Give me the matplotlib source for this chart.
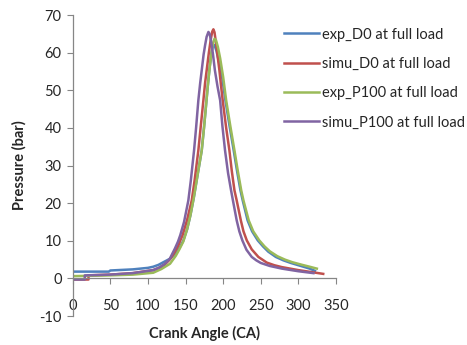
import matplotlib
matplotlib.use("Agg")
import matplotlib.pyplot as plt

plt.rcParams['font.family'] = ['Lato', 'DejaVu Sans']
plt.rcParams['axes.unicode_minus'] = False

# ── Data: crank angle (CA) vs cylinder pressure (bar) ─────────────────────────
exp_d0_ca = [0, 48, 50, 80, 100, 107, 114, 120.5, 130, 138, 143, 147, 152, 156.5,
             161, 166, 171.5, 174.5, 177, 179.5, 182, 184.5, 186.5, 188.5, 191,
             195, 199, 203, 208.5, 214, 218.5, 223, 226, 232.5, 238.5, 246, 253,
             260, 270, 280, 290, 305, 315, 322]
exp_d0_p = [1.8, 1.8, 2.1, 2.4, 2.8, 3.1, 3.6, 4.3, 5.3, 7.0, 8.5, 10, 13, 16.8,
            21.5, 27.5, 34, 40, 45.5, 51, 56, 60, 62, 62, 60.5,
            57, 53, 47.3, 40.5, 34, 28.5, 23.4, 20.7, 15.4, 12.5, 10.1, 8.5,
            7.1, 5.7, 4.8, 4.1, 3.2, 2.6, 2.0]

simu_d0_ca = [0, 21, 21, 50, 80, 107, 115, 122, 129, 135, 140.5, 146, 152, 158.2,
              162, 167, 170, 173.7, 176, 178.5, 181, 183.5, 185.5, 187, 188.5, 190.5,
              193, 195, 197, 199.4, 204, 208.3, 211.5, 215, 218, 223.5, 227, 231.4,
              238, 246.8, 258, 268, 278, 300, 320, 333]
simu_d0_p = [-0.3, -0.3, 0.8, 1.0, 1.4, 2.2, 2.8, 3.6, 5.0, 6.8, 8.8, 11.5, 15.5, 20.7,
             26, 34, 40, 47.3, 52, 56, 60, 63.5, 65.6, 66.2, 65.4, 62.5,
             58.5, 55.3, 51.5, 47.3, 40, 34, 28.5, 23.4, 20.7, 15.4, 12.5, 10.1,
             7.7, 5.7, 4.2, 3.5, 3.0, 2.2, 1.6, 1.2]

exp_p100_ca = [0, 50, 80, 107, 118, 129.4, 137, 142, 147, 152, 156.5, 161, 166,
               171.5, 174.5, 177, 179.5, 182, 184.5, 186.5, 188.5, 190.5, 193, 196,
               200, 204, 209.5, 215, 219.5, 224, 227, 234, 240, 248, 255, 262, 272,
               282, 292, 305, 315, 324.5]
exp_p100_p = [0.6, 0.8, 1.0, 1.5, 2.5, 3.9, 6.0, 7.8, 9.8, 13, 16.8, 21.5, 27.5,
              34, 40, 45.5, 51, 56, 60, 62.5, 63.7, 63.3, 61.5, 58.5,
              53.5, 47.3, 40.5, 34, 28.5, 23.4, 20.7, 15.4, 12.5, 10.1, 8.5, 7.2, 5.9,
              5.0, 4.3, 3.6, 3.1, 2.6]

simu_p100_ca = [0, 16, 16, 50, 80, 107, 115, 122, 129, 136, 140, 143, 148, 153.7,
                157, 161.3, 164, 167, 169.5, 171.5, 174, 176, 178, 180.4, 182, 184,
                186.5, 189, 192.5, 196, 199, 202.5, 206.5, 210.5, 213, 218, 221.5,
                225.5, 231, 238, 244, 250, 262, 278, 300, 320]
simu_p100_p = [-0.3, -0.3, 0.8, 1.0, 1.4, 2.2, 2.9, 3.8, 5.2, 8.0, 9.8, 11.5, 15, 20.7,
               26, 34, 40, 47.3, 52, 55.3, 59.5, 62, 64.2, 65.5, 65, 63,
               59.5, 55.3, 51, 47.3, 40.5, 34, 28, 23.4, 20.7, 15.4, 12.5,
               10.1, 7.6, 5.7, 4.8, 4.1, 3.3, 2.6, 1.9, 1.4]

labels = ["exp_D0 at full load", "simu_D0 at full load",
          "exp_P100 at full load", "simu_P100 at full load"]
colors = ["#4F81BD", "#C0504D", "#9BBB59", "#8064A2"]

# ── Plot ──────────────────────────────────────────────────────────────────────
fig = plt.figure(figsize=(4.67, 3.45), dpi=100)
ax = fig.add_axes([0.1557, 0.084, 0.5638, 0.8725])

series = [(exp_d0_ca, exp_d0_p), (simu_d0_ca, simu_d0_p),
          (exp_p100_ca, exp_p100_p), (simu_p100_ca, simu_p100_p)]
for (ca, p), lab, col in zip(series, labels, colors):
    ax.plot(ca, p, color=col, lw=1.8, label=lab, solid_joinstyle="round")

ax.set_xlim(0, 350)
ax.set_ylim(-10, 70)
ax.set_xticks(range(0, 351, 50))
ax.set_yticks(range(-10, 71, 10))

ax.spines["top"].set_visible(False)
ax.spines["right"].set_visible(False)
ax.spines["bottom"].set_position(("data", 0))
for s in ("left", "bottom"):
    ax.spines[s].set_color("#868686")
    ax.spines[s].set_linewidth(0.9)

ax.tick_params(axis="x", direction="out", length=4, color="#868686",
               labelsize=10.5, labelcolor="#262626", pad=11)
ax.tick_params(axis="y", direction="out", length=4, color="#868686",
               labelsize=10.5, labelcolor="#262626", pad=4)

ax.set_xlabel("Crank Angle (CA)", fontsize=10.5, fontweight="bold",
              color="#262626", labelpad=9)
ax.set_ylabel("Pressure (bar)", fontsize=10.5, fontweight="bold",
              color="#262626", labelpad=9)

leg = ax.legend(loc="upper left", bbox_to_anchor=(0.595, 0.937),
                bbox_transform=fig.transFigure, frameon=False,
                fontsize=10.5, handlelength=2.4, handletextpad=0.2,
                labelspacing=1.05, borderaxespad=0)
for t in leg.get_texts():
    t.set_color("#262626")

fig.savefig("out.png", dpi=100)
